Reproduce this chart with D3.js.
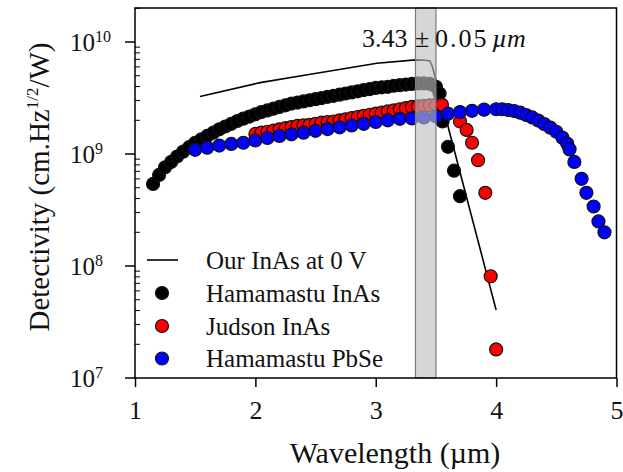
<!DOCTYPE html>
<html><head><meta charset="utf-8">
<script src="https://cdn.jsdelivr.net/npm/d3@7"></script>
<style>
html,body{margin:0;padding:0;background:#fff;}
svg{display:block;font-family:"Liberation Serif","Times New Roman",serif;}
</style></head>
<body><svg id="c" width="623" height="472"></svg>
<script>
// ---- data ----
const ourLambda = [1.54, 2.04, 2.37, 3.01, 3.33, 3.41, 3.45, 3.47, 3.49, 4.00];
const ourD      = [3.26e9, 4.34e9, 4.97e9, 6.46e9, 6.92e9, 6.87e9, 6.76e9, 6.03e9, 5.0e9, 4.05e7];

const hamInAsLambda = [1.15,1.20,1.25,1.30,1.35,1.40,1.45,1.50,1.55,1.60,1.65,1.70,1.75,1.80,1.85,1.90,1.95,2.00,
  2.05,2.10,2.15,2.20,2.25,2.30,2.35,2.40,2.45,2.50,2.55,2.60,2.65,2.70,2.75,2.80,2.85,2.90,2.95,3.00,
  3.05,3.10,3.15,3.20,3.25,3.30,3.35,3.40,3.45,3.50,3.53,3.555,3.60,3.65,3.70];
const hamInAsD = [5.4e8,6.5e8,7.6e8,8.5e8,9.5e8,1.05e9,1.15e9,1.26e9,1.35e9,1.45e9,1.55e9,1.66e9,1.76e9,1.86e9,1.97e9,2.07e9,2.16e9,2.26e9,
  2.37e9,2.45e9,2.54e9,2.63e9,2.72e9,2.82e9,2.88e9,2.95e9,3.02e9,3.09e9,3.16e9,3.24e9,3.31e9,3.39e9,3.47e9,3.55e9,3.63e9,3.72e9,3.80e9,3.89e9,
  3.94e9,3.98e9,4.07e9,4.12e9,4.17e9,4.22e9,4.27e9,4.27e9,4.22e9,3.98e9,3.47e9,1.95e9,1.16e9,7.1e8,4.2e8];

const judsonLambda = [2.00,2.05,2.10,2.15,2.20,2.25,2.30,2.35,2.40,2.45,2.50,2.55,2.60,2.65,2.70,2.75,2.80,2.85,2.90,2.95,
  3.00,3.05,3.10,3.15,3.20,3.25,3.30,3.35,3.40,3.45,3.50,3.55,3.70,3.755,3.80,3.85,3.91,3.955,4.00];
const judsonD = [1.51e9,1.55e9,1.58e9,1.62e9,1.66e9,1.70e9,1.74e9,1.78e9,1.80e9,1.82e9,1.86e9,1.91e9,1.93e9,1.95e9,2.0e9,2.04e9,2.09e9,2.14e9,2.19e9,2.24e9,
  2.29e9,2.34e9,2.40e9,2.45e9,2.51e9,2.57e9,2.63e9,2.66e9,2.69e9,2.72e9,2.75e9,2.75e9,1.95e9,1.64e9,1.26e9,8.8e8,4.5e8,8.1e7,1.8e7];

const pbseLambda = [1.50,1.60,1.70,1.80,1.90,2.00,2.10,2.20,2.30,2.40,2.50,2.60,2.70,2.80,2.90,3.00,3.10,3.20,3.30,3.40,
  3.50,3.60,3.70,3.80,3.90,4.00,4.05,4.10,4.15,4.20,4.25,4.30,4.35,4.40,4.45,4.50,4.55,4.59,4.61,4.65,4.71,4.75,4.81,4.85,4.90];
const pbseD = [1.09e9,1.14e9,1.19e9,1.23e9,1.26e9,1.32e9,1.39e9,1.45e9,1.50e9,1.55e9,1.61e9,1.67e9,1.73e9,1.80e9,1.86e9,1.93e9,2.0e9,2.06e9,2.08e9,2.12e9,
  2.17e9,2.29e9,2.37e9,2.43e9,2.49e9,2.51e9,2.51e9,2.47e9,2.42e9,2.34e9,2.23e9,2.12e9,1.99e9,1.85e9,1.72e9,1.58e9,1.40e9,1.24e9,1.10e9,8.5e8,6.0e8,4.5e8,3.4e8,2.5e8,2.0e8];

const bandRange = [3.33, 3.50];
const xTicks = [1, 2, 3, 4, 5];
const yTicks = [1e7, 1e8, 1e9, 1e10];
const yTickExp = ["7", "8", "9", "10"];
const legendLabels = ["Our InAs at 0 V", "Hamamastu InAs", "Judson InAs", "Hamamastu PbSe"];
const seriesColors = ["#000000", "#000000", "#ff0000", "#0000ff"];

// ---- chart ----
const svg = d3.select("#c");
const L = 135, R = 616.5, T = 8, B = 378;
const x = d3.scaleLinear().domain([1, 5]).range([L, R]);
const y = d3.scaleLog().domain([1e7, Math.pow(10, 10.3036)]).range([B, T]);
const rad = 6.5;

// line
const line = d3.line().x(d => x(d[0])).y(d => y(d[1]));
svg.append("path").datum(d3.zip(ourLambda, ourD))
  .attr("d", line).attr("fill", "none").attr("stroke", "#000").attr("stroke-width", 1.6);

function dots(lam, val, fill) {
  svg.append("g").selectAll("circle").data(d3.zip(lam, val)).join("circle")
    .attr("cx", d => x(d[0])).attr("cy", d => y(d[1])).attr("r", rad)
    .attr("fill", fill).attr("stroke", "#111").attr("stroke-width", 1.2);
}
dots(hamInAsLambda, hamInAsD, seriesColors[1]);
dots(judsonLambda, judsonD, seriesColors[2]);
dots(pbseLambda, pbseD, seriesColors[3]);

// shaded band
svg.append("rect")
  .attr("x", x(bandRange[0])).attr("y", T)
  .attr("width", x(bandRange[1]) - x(bandRange[0])).attr("height", B - T)
  .attr("fill", "#bdbdbd").attr("fill-opacity", 0.62)
  .attr("stroke", "#7a7a7a").attr("stroke-width", 1.2);

// frame
svg.append("rect").attr("x", L).attr("y", T).attr("width", R - L).attr("height", B - T)
  .attr("fill", "none").attr("stroke", "#000").attr("stroke-width", 1.5);

// x axis ticks
const xAxis = d3.axisBottom(x).tickValues(xTicks).tickSize(9).tickPadding(14).tickFormat(d3.format("d"));
const gx = svg.append("g").attr("transform", `translate(0,${B})`).call(xAxis);
gx.select(".domain").remove();
gx.selectAll("line").attr("stroke", "#000").attr("stroke-width", 1.5);
gx.selectAll("text").attr("font-family", "Liberation Serif").attr("font-size", 26).attr("fill", "#111").attr("dy", "0.71em");

// y axis: major ticks outward, minor inward
const gy = svg.append("g");
gy.selectAll("line.maj").data(yTicks).join("line")
  .attr("x1", L - 10).attr("x2", L).attr("y1", d => y(d)).attr("y2", d => y(d))
  .attr("stroke", "#000").attr("stroke-width", 1.5);
const minors = [];
[1e7, 1e8, 1e9, 1e10].forEach(dec => { for (let k = 2; k <= 9; k++) { const v = dec * k; if (v <= y.domain()[1]) minors.push(v); } });
gy.selectAll("line.min").data(minors).join("line")
  .attr("x1", L).attr("x2", L + 5).attr("y1", d => y(d)).attr("y2", d => y(d))
  .attr("stroke", "#000").attr("stroke-width", 1);
const yl = gy.selectAll("text").data(yTicks).join("text")
  .attr("x", 70).attr("y", d => y(d) + 8.5)
  .attr("font-size", 25).attr("fill", "#111");
yl.append("tspan").text("10");
yl.append("tspan").attr("font-size", 16).attr("dy", -9).text((d, i) => yTickExp[i]);

// axis titles
svg.append("text").attr("x", 395).attr("y", 463).attr("text-anchor", "middle")
  .attr("font-size", 30).attr("fill", "#111").text("Wavelength (\u00b5m)");
const yt = svg.append("text").attr("transform", "translate(49,187) rotate(-90)")
  .attr("text-anchor", "middle").attr("font-size", 29).attr("fill", "#111");
yt.append("tspan").text("Detectivity (cm.Hz");
yt.append("tspan").attr("font-size", 17).attr("dy", -11).text("1/2");
yt.append("tspan").attr("dy", 11).text("/W)");

// annotation
const ann = svg.append("text").attr("y", 46.5).attr("font-size", 26).attr("fill", "#111");
ann.append("tspan").attr("x", 362).text("3.43");
ann.append("tspan").attr("x", 415).text("\u00b1");
ann.append("tspan").attr("x", 435).attr("letter-spacing", 2).text("0.05");
ann.append("tspan").attr("x", 492).attr("font-style", "italic").text("\u00b5m");

// legend
const lg = svg.append("g");
const rowY = [260, 293, 326, 358.5];
lg.append("line").attr("x1", 147).attr("x2", 178).attr("y1", rowY[0]).attr("y2", rowY[0])
  .attr("stroke", "#000").attr("stroke-width", 1.6);
lg.selectAll("circle").data([1, 2, 3]).join("circle")
  .attr("cx", 162).attr("cy", i => rowY[i]).attr("r", rad)
  .attr("fill", i => seriesColors[i]).attr("stroke", "#111").attr("stroke-width", 1.2);
lg.selectAll("text").data(legendLabels).join("text")
  .attr("x", 206).attr("y", (d, i) => rowY[i] + 8.5)
  .attr("font-size", 25).attr("fill", "#111").text(d => d);
</script></body></html>
